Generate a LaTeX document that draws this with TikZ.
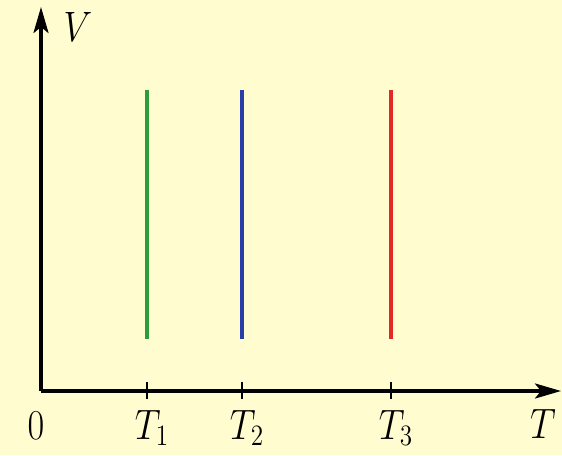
\documentclass[tikz,border=0pt]{standalone}
\usetikzlibrary{arrows.meta}
\definecolor{bgc}{RGB}{255,252,208}
\definecolor{lgreen}{RGB}{46,155,60}
\definecolor{lblue}{RGB}{42,62,170}
\definecolor{lred}{RGB}{228,40,40}
\begin{document}
\begin{tikzpicture}[x=1pt,y=-1pt,
  axis/.style={line width=3.4pt,-{Stealth[length=26pt,width=15pt,inset=6pt]}},
  tick/.style={line width=2.4pt},
  iso/.style={line width=4pt},
  lab/.style={font=\huge, xscale=1.75, yscale=2.05, inner sep=0pt, anchor=base}]
\fill[bgc] (0,0) rectangle (562,455);
\useasboundingbox (0,0) rectangle (562,455);
\coordinate (O) at (41,391);
\coordinate (ytop) at (41,7);
\coordinate (xend) at (561,391);
\draw[axis] (O) -- (ytop);
\draw[axis] (O) -- (xend);
\foreach \n/\x in {1/147,2/242,3/391}{
  \coordinate (t\n) at (\x,399);
  \coordinate (tt\n) at (\x,382);
  \draw[tick] (t\n) -- (tt\n);
}
\coordinate (g1) at (147,90); \coordinate (g2) at (147,339);
\coordinate (b1) at (242,90); \coordinate (b2) at (242,339);
\coordinate (r1) at (391,90); \coordinate (r2) at (391,339);
\draw[iso,lgreen] (g1) -- (g2);
\draw[iso,lblue] (b1) -- (b2);
\draw[iso,lred] (r1) -- (r2);
\node[lab] (zero) at (36,439) {$0$};
\node[lab] (T1) at (152,439) {$T_1$};
\node[lab] (T2) at (247,439) {$T_2$};
\node[lab] (T3) at (396,439) {$T_3$};
\node[lab] (T) at (543,438) {$T$};
\node[lab] (V) at (78,41) {$V$};
\end{tikzpicture}
\end{document}
